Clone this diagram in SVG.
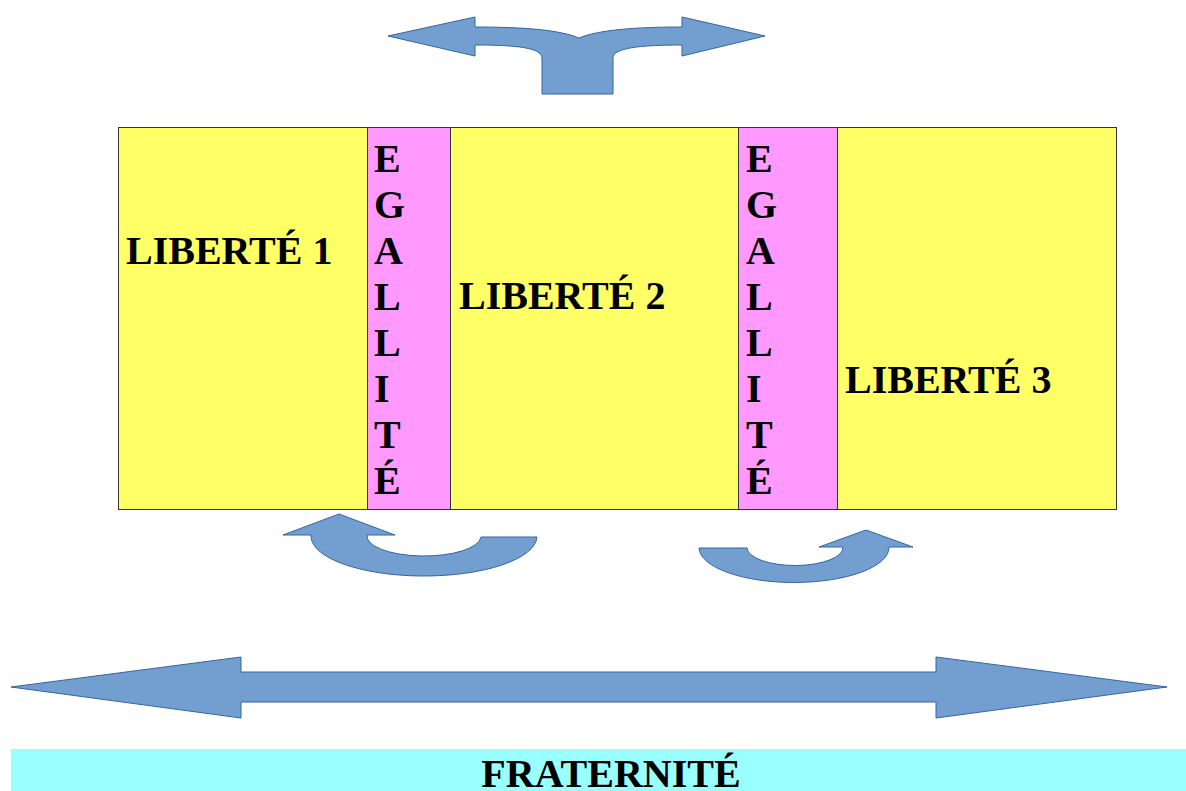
<svg xmlns="http://www.w3.org/2000/svg" width="1186" height="791" viewBox="0 0 1186 791">
<style>
.lib{fill:#ffff66;stroke:#333333;stroke-width:1}
.eg{fill:#ff99ff;stroke:#333333;stroke-width:1}
.arr{fill:#729fcf;stroke:#3465a4;stroke-width:1}
.t{font-family:"Liberation Serif","Times New Roman",serif;font-weight:bold;font-size:40px;fill:#000}
</style>
<rect width="1186" height="791" fill="#ffffff"/>
<g id="liberte1"><rect class="lib" x="118.5" y="127.5" width="249" height="382"/><text class="t" x="126" y="264">LIBERTÉ 1</text></g>
<g id="egalite1"><rect class="eg" x="367.5" y="127.5" width="83" height="382"/>
<text class="t" x="374"><tspan x="374" y="172">E</tspan><tspan x="374" y="218">G</tspan><tspan x="374" y="264">A</tspan><tspan x="374" y="310">L</tspan><tspan x="374" y="356">L</tspan><tspan x="374" y="402">I</tspan><tspan x="374" y="448">T</tspan><tspan x="374" y="494">É</tspan></text></g>
<g id="liberte2"><rect class="lib" x="450.5" y="127.5" width="288" height="382"/><text class="t" x="459" y="309">LIBERTÉ 2</text></g>
<g id="egalite2"><rect class="eg" x="738.5" y="127.5" width="99" height="382"/>
<text class="t" x="746"><tspan x="746" y="172">E</tspan><tspan x="746" y="218">G</tspan><tspan x="746" y="264">A</tspan><tspan x="746" y="310">L</tspan><tspan x="746" y="356">L</tspan><tspan x="746" y="402">I</tspan><tspan x="746" y="448">T</tspan><tspan x="746" y="494">É</tspan></text></g>
<g id="liberte3"><rect class="lib" x="837.5" y="127.5" width="279" height="382"/><text class="t" x="845" y="393">LIBERTÉ 3</text></g>
<g id="fraternite"><rect x="11" y="749" width="1175" height="42" fill="#99ffff"/><text class="t" x="611" y="787" text-anchor="middle">FRATERNITÉ</text></g>
<g id="connectors">
<path id="top-arrow" class="arr" d="M388,36 L475,17 L475,27 C525,27 560,30 579,38 C598,30 635,27 682,27 L682,17 L765,36 L682,56 L682,45 C640,45 613,48 613,58 L613,94 L542,94 L542,58 C542,48 518,45 475,45 L475,56 Z"/>
<path id="curve-left" class="arr" d="M339,514 L395,535 L367,535 A57,20 0 0 0 481,537 L537,537 A113,40 0 0 1 311,535 L283,535 Z"/>
<path id="curve-right" class="arr" d="M699,548 L747,548 A48,18 0 0 0 843,547 L819,547 L866,530 L913,547 L889,547 A95,35 0 0 1 699,548 Z"/>
<path id="double-arrow" class="arr" d="M11,687 L241,657 L241,672 L936,672 L936,657 L1167,687 L936,718 L936,702 L241,702 L241,718 Z"/>
</g>
</svg>
